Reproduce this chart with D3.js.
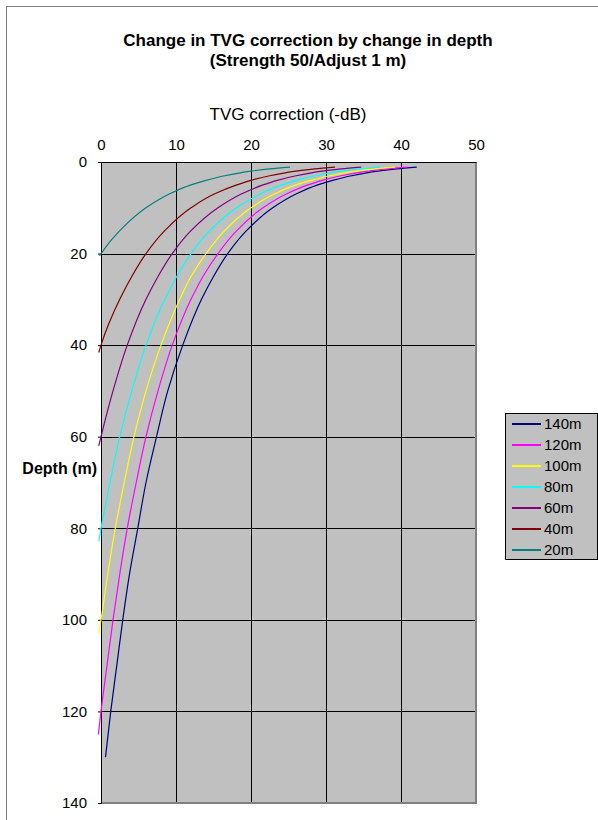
<!DOCTYPE html>
<html>
<head>
<meta charset="utf-8">
<script src="https://cdn.jsdelivr.net/npm/d3@7"></script>
<style>
  html, body { margin: 0; padding: 0; background: #fff; }
  svg { display: block; font-family: "Liberation Sans", Arial, sans-serif; }
</style>
</head>
<body>
<svg id="chart" width="598" height="820"></svg>
<script>
// ---- Data (depth in m, TVG correction in -dB) ----
const seriesNames = ["140m", "120m", "100m", "80m", "60m", "40m", "20m"];
const seriesColors = ["#000080", "#FF00FF", "#FFFF00", "#00FFFF", "#800080", "#800000", "#008080"];

const s140 = [[1.1,42.1],[1.5,39.4],[2,36.9],[3,33.4],[4,30.9],[5,28.9],[7,26.0],[10,22.9],[15,19.4],[20,16.9],[25,15.0],[30,13.4],[40,10.9],[50,8.9],[60,7.4],[70,6.0],[80,4.9],[90,3.8],[100,2.9],[110,2.1],[120,1.3],[130,0.6]];
const s120 = [[1.1,40.8],[1.5,38.1],[2,35.6],[3,32.0],[4,29.5],[5,27.6],[7,24.7],[10,21.6],[15,18.1],[20,15.6],[25,13.6],[30,12.0],[40,9.5],[50,7.6],[60,6.0],[70,4.7],[80,3.5],[90,2.5],[100,1.6],[110,0.8],[120,0.0],[125,-0.35]];
const s100 = [[1.1,39.2],[1.5,36.5],[2,34.0],[3,30.5],[4,28.0],[5,26.0],[7,23.1],[10,20.0],[15,16.5],[20,14.0],[25,12.0],[30,10.5],[40,8.0],[50,6.0],[60,4.4],[70,3.1],[80,1.9],[90,0.9],[100,0.0],[103,-0.3]];
const s80  = [[1.1,37.2],[1.5,34.5],[2,32.0],[3,28.5],[4,26.0],[5,24.1],[7,21.2],[10,18.1],[15,14.5],[20,12.0],[25,10.1],[30,8.5],[40,6.0],[50,4.1],[60,2.5],[70,1.2],[80,0.0],[82.8,-0.3]];
const s60  = [[1.1,34.7],[1.5,32.0],[2,29.5],[3,26.0],[4,23.5],[5,21.6],[7,18.7],[10,15.6],[15,12.0],[20,9.5],[25,7.6],[30,6.0],[40,3.5],[50,1.6],[60,0.0],[62,-0.3]];
const s40  = [[1.1,31.2],[1.5,28.5],[2,26.0],[3,22.5],[4,20.0],[5,18.1],[7,15.1],[10,12.0],[15,8.5],[20,6.0],[25,4.1],[30,2.5],[40,0.0],[41.6,-0.3]];
const s20  = [[1.1,25.2],[1.5,22.5],[2,20.0],[3,16.5],[4,14.0],[5,12.0],[7,9.1],[10,6.0],[15,2.5],[20,0.0],[20.5,-0.2]];

const xTicks = [0, 10, 20, 30, 40, 50];
const yTicks = [0, 20, 40, 60, 80, 100, 120, 140];

const titleLines = ["Change in TVG correction by change in depth", "(Strength 50/Adjust 1 m)"];
const xTitle = "TVG correction (-dB)";
const yTitle = "Depth (m)";

const seriesData = [s140, s120, s100, s80, s60, s40, s20];

// ---- Layout ----
const svg = d3.select("#chart");
const plot = { left: 101, right: 476, top: 162, bottom: 803 };

const x = d3.scaleLinear().domain([0, 50]).range([plot.left, plot.right]);
const y = d3.scaleLinear().domain([0, 140]).range([plot.top, plot.bottom]);

// outer chart border
svg.append("rect")
  .attr("x", 6.5).attr("y", 6.5).attr("width", 610).attr("height", 830)
  .attr("fill", "#fff").attr("stroke", "#808080").attr("stroke-width", 1);

// title
const title = svg.append("text")
  .attr("text-anchor", "middle")
  .attr("font-weight", "bold")
  .attr("font-size", 17)
  .attr("fill", "#000");
titleLines.forEach((t, i) => {
  title.append("tspan").attr("x", 308).attr("y", 46 + i * 20).text(t);
});

// x axis title
svg.append("text")
  .attr("x", 288).attr("y", 120)
  .attr("text-anchor", "middle")
  .attr("font-size", 17)
  .text(xTitle);

// y axis title
svg.append("text")
  .attr("x", 97).attr("y", 474)
  .attr("text-anchor", "end")
  .attr("font-weight", "bold")
  .attr("font-size", 16)
  .text(yTitle);

// plot background
svg.append("rect")
  .attr("x", plot.left).attr("y", plot.top)
  .attr("width", plot.right - plot.left).attr("height", plot.bottom - plot.top)
  .attr("fill", "#C0C0C0");

// gridlines
svg.append("g").selectAll("line.vg")
  .data(xTicks.filter(d => d > 0 && d < 50))
  .join("line")
  .attr("x1", d => Math.round(x(d)) + 0.5).attr("x2", d => Math.round(x(d)) + 0.5)
  .attr("y1", plot.top).attr("y2", plot.bottom)
  .attr("stroke", "#000").attr("stroke-width", 1);
svg.append("g").selectAll("line.hg")
  .data(yTicks.filter(d => d > 0 && d < 140))
  .join("line")
  .attr("x1", plot.left).attr("x2", plot.right)
  .attr("y1", d => Math.round(y(d)) + 0.5).attr("y2", d => Math.round(y(d)) + 0.5)
  .attr("stroke", "#000").attr("stroke-width", 1);

// plot frame: right/bottom grey, axes black
svg.append("path")
  .attr("d", `M${plot.right},${plot.top} V${plot.bottom} H${plot.left}`)
  .attr("fill", "none").attr("stroke", "#808080").attr("stroke-width", 2);

// axes
const xAxis = d3.axisTop(x).tickValues(xTicks).tickSize(0).tickPadding(12).tickFormat(d3.format("d"));
const gx = svg.append("g").attr("transform", `translate(0,${plot.top})`).call(xAxis);
gx.select(".domain").attr("stroke", "#000");
gx.selectAll("text").attr("font-size", 15).attr("font-family", "Liberation Sans, Arial, sans-serif").attr("fill", "#000");

const yAxis = d3.axisLeft(y).tickValues(yTicks).tickSize(3).tickPadding(11).tickFormat(d3.format("d"));
const gy = svg.append("g").attr("transform", `translate(${plot.left},0)`).call(yAxis);
gy.select(".domain").attr("stroke", "#000");
gy.selectAll(".tick line").attr("stroke", "#000");
gy.selectAll("text").attr("font-size", 15).attr("font-family", "Liberation Sans, Arial, sans-serif").attr("fill", "#000");

// series lines
const line = d3.line()
  .x(d => x(d[1]))
  .y(d => y(d[0]))
  .curve(d3.curveMonotoneY);

svg.append("g").selectAll("path.series")
  .data(seriesData)
  .join("path")
  .attr("class", "series")
  .attr("d", d => line(d))
  .attr("fill", "none")
  .attr("stroke", (d, i) => seriesColors[i])
  .attr("stroke-width", 1.2);

// legend
const legend = { left: 505.5, top: 413.5, right: 597.5, bottom: 559.5, rowStart: 424, rowStep: 21 };
svg.append("rect")
  .attr("x", legend.left).attr("y", legend.top)
  .attr("width", legend.right - legend.left).attr("height", legend.bottom - legend.top)
  .attr("fill", "#C0C0C0").attr("stroke", "#000").attr("stroke-width", 1);

const rows = svg.append("g").selectAll("g.row")
  .data(seriesNames)
  .join("g")
  .attr("transform", (d, i) => `translate(0,${legend.rowStart + i * legend.rowStep})`);
rows.append("line")
  .attr("x1", 512).attr("x2", 541).attr("y1", 0).attr("y2", 0)
  .attr("stroke", (d, i) => seriesColors[i]).attr("stroke-width", 2);
rows.append("text")
  .attr("x", 544).attr("y", 0).attr("dy", "0.36em")
  .attr("font-size", 15)
  .text(d => d);
</script>
</body>
</html>
